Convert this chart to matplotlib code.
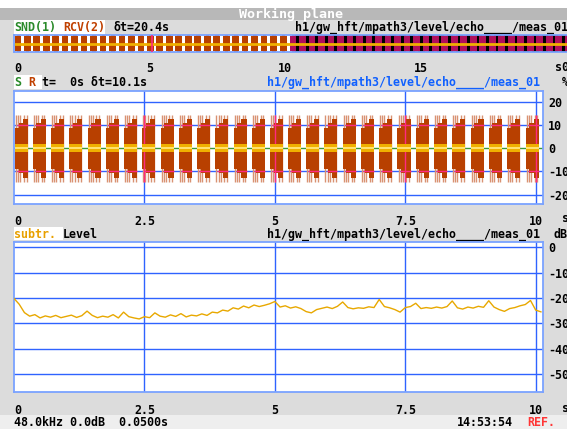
import numpy as np
import matplotlib
matplotlib.use("Agg")
import matplotlib.pyplot as plt
from matplotlib.patches import Rectangle

W, H, DPI = 567, 429, 100

# ------------------------------------------------------------------ data
overview_ticks = [0, 5, 10, 15]
overview_tick_labels = ["0", "5", "10", "15"]
overview_span = 20.4          # s, whole recording
window_span = 10.13           # s, shown window (dt=10.1s)
window_ticks = [0, 2.5, 5, 7.5, 10]
window_tick_labels = ["0", "2.5", "5", "7.5", "10"]

# burst start times (s)
burst_starts = [0.02, 0.36, 0.71, 1.06, 1.41, 1.76, 2.11, 2.46, 2.81, 3.16,
                3.51, 3.86, 4.21, 4.56, 4.91, 5.25, 5.60, 5.95, 6.30, 6.65,
                7.00, 7.35, 7.70, 8.05, 8.40, 8.75, 9.10, 9.45, 9.81]
# bursts in the rest of the recording (overview strip only)
tail_burst_starts = [10.17, 10.52, 10.87, 11.22, 11.57, 11.92, 12.27, 12.62,
                     12.97, 13.32, 13.67, 14.02, 14.37, 14.72, 15.07, 15.42,
                     15.77, 16.12, 16.47, 16.82, 17.17, 17.52, 17.87, 18.22,
                     18.57, 18.92, 19.27, 19.62, 19.97, 20.32]
burst_len = 0.25
burst_profile_amp = [8.8, 10.8, 12.8]   # % (rising burst envelope)
burst_spike_amp = 14.5                   # %
send_band_amp = 1.8                      # %

signal_ticks = [20, 10, 0, -10, -20]
level_ticks = [0, -10, -20, -30, -40, -50]

level_db = [-20.2, -22.5, -25.8, -27.2, -26.6, -27.9, -27.1, -27.6, -26.9, -27.8,
            -27.3, -26.8, -27.7, -27.0, -25.2, -26.9, -27.8, -27.2, -27.6, -26.6,
            -27.9, -25.6, -27.4, -27.9, -28.3, -27.4, -27.8, -25.9, -27.2, -27.6,
            -26.7, -27.3, -26.2, -27.5, -26.8, -27.1, -26.3, -26.9, -25.6, -25.9,
            -24.8, -25.2, -23.9, -24.4, -23.2, -23.9, -22.8, -23.4, -22.9, -22.3,
            -21.4, -23.6, -23.1, -24.0, -23.5, -24.2, -25.4, -25.9, -24.6, -24.1,
            -23.6, -24.2, -23.3, -21.6, -23.8, -24.3, -23.9, -24.1, -23.5, -23.8,
            -20.6, -23.4, -23.9, -24.6, -25.6, -23.8, -23.4, -22.1, -24.2, -23.8,
            -24.1, -23.6, -24.0, -23.4, -21.2, -23.9, -24.4, -23.6, -24.0, -23.3,
            -23.7, -21.1, -23.6, -24.6, -25.3, -24.2, -23.8, -23.1, -22.6, -21.0,
            -24.8, -25.5]
level_dt = 0.1

path_text = "h1/gw_hft/mpath3/level/echo____/meas_01"

# ------------------------------------------------------------------ style
MONO = "DejaVu Sans Mono"
FS = 8.4
GRAY = "#dcdcdc"
TITLE_GRAY = "#b8b8b8"
GRID = "#2f63ff"
SPINE = "#7aa2ff"
BROWN = "#b84000"
SALMON = "#d99272"
MAGENTA = "#b0105c"
PINK = "#ff2a80"
GOLD = "#f0b000"
plt.rcParams["font.family"] = [MONO]

fig = plt.figure(figsize=(W / DPI, H / DPI), dpi=DPI, facecolor=GRAY)

# background / text layer in pixel coordinates
bg = fig.add_axes([0, 0, 1, 1], zorder=0)
bg.set_xlim(0, W)
bg.set_ylim(H, 0)
bg.axis("off")


def rect(x0, y0, x1, y1, color):
    bg.add_patch(Rectangle((x0, y0), x1 - x0, y1 - y0, color=color, lw=0))


def txt(x, y, s, color="black", ha="left", **kw):
    bg.text(x, y, s, color=color, ha=ha, va="center", fontsize=FS,
            fontweight="bold", family=MONO, **kw)


rect(0, 0, W, 8, "white")
rect(0, 8, W, 20, TITLE_GRAY)
rect(0, 415, W, H, "#eeeeee")
rect(14, 20, 105, 35, "white")
rect(14, 75, 42, 89, "white")
rect(14, 227, 63, 240, "white")

bg.text(291, 14, "Working plane", color="white", ha="center", va="center",
        fontsize=9.6, fontweight="bold", family=MONO)
txt(14, 27.5, "SND(1)", color="#2a8a2a")
txt(63, 27.5, "RCV(2)", color="#c04000")
txt(113, 27.5, "δt=20.4s")
txt(295, 27.5, path_text)

txt(14, 82, "S", color="#2a8a2a")
txt(28, 82, "R", color="#c04000")
txt(42, 82, "t=  0s δt=10.1s")
txt(267, 82, path_text, color="#1060ff")
txt(562, 82, "%")

txt(14, 234, "subtr.", color="#e8a000")
txt(63, 234, "Level")
txt(267, 234, path_text)
txt(553, 234, "dB")

txt(555, 67.5, "s0")
txt(562, 219, "s")
txt(562, 408, "s")

txt(14, 423, "48.0kHz 0.0dB  0.0500s")
txt(457, 423, "14:53:54")
txt(527, 423, "REF.", color="#ff3535")


def px_axes(x0, y0, x1, y1):
    return fig.add_axes([x0 / W, 1 - y1 / H, (x1 - x0) / W, (y1 - y0) / H], zorder=2)


def style_axes(ax, spine_color=SPINE):
    for sp in ax.spines.values():
        sp.set_color(spine_color)
        sp.set_linewidth(1.3)
    ax.tick_params(length=0, labelsize=FS, labelcolor="black")
    for lab in ax.get_xticklabels() + ax.get_yticklabels():
        lab.set_fontweight("bold")
        lab.set_family(MONO)


# ------------------------------------------------------------------ overview strip
ov = px_axes(14, 35, 567, 52)
ov.set_facecolor("white")
ov.set_xlim(0, overview_span)
ov.set_ylim(-1, 1)
ov.axvspan(window_span + 0.15, overview_span, color="black", zorder=0)
all_ov = burst_starts + tail_burst_starts
ov_colors = [BROWN if s < window_span - 0.2 else MAGENTA for s in all_ov]
ov.bar(all_ov, 1.8, width=burst_len, bottom=-0.9, align="edge",
       color=ov_colors, lw=0, zorder=1)
ov.bar(np.array(all_ov) + 0.08, 2.0, width=0.12, bottom=-1.0, align="edge",
       color=ov_colors, lw=0, zorder=1)
ov.axhline(0, color=GOLD, lw=2.0, zorder=2)
ov.axvline(5.1, color=PINK, lw=1.2, zorder=3)
ov.set_xticks(overview_ticks)
ov.set_xticklabels(overview_tick_labels)
ov.set_yticks([])
style_axes(ov)
ov.spines["right"].set_visible(False)
ov.tick_params(axis="x", pad=7.5)
ov.get_xticklabels()[0].set_ha("left")

# ------------------------------------------------------------------ signal panel
sig = px_axes(14, 90.7, 542.5, 204)
sig.set_facecolor("white")
sig.set_xlim(0, window_span)
sig.set_ylim(-24.0, 24.8)
for v in signal_ticks:
    if v != 0:
        sig.axhline(v, color=GRID, lw=1.0, zorder=0)
for v in window_ticks[1:]:
    sig.axvline(v, color=GRID, lw=1.0, zorder=0)
sig.axhline(0, color="#3a9a3a", lw=1.0, zorder=1)

seg_off = [0.0, 0.07, 0.15]
seg_w = [0.07, 0.08, 0.10]
spike_off = [0.02, 0.06, 0.10, 0.17, 0.22]
starts = np.array(burst_starts)
for so in spike_off:
    sig.vlines(starts + so, -burst_spike_amp, burst_spike_amp,
               color=SALMON, lw=1.0, zorder=2)
for off, w, a in zip(seg_off, seg_w, burst_profile_amp):
    sig.bar(starts + off, 2 * a, width=w, bottom=-a, align="edge",
            color=BROWN, lw=0, zorder=3)
sig.hlines([10, -10] * len(starts), np.repeat(starts + 0.04, 2),
           np.repeat(starts + burst_len, 2), color=PINK, lw=1.0, zorder=4)
for g in window_ticks[1:]:
    for s in burst_starts:
        if s <= g <= s + burst_len:
            sig.vlines(g, -burst_spike_amp, burst_spike_amp, color=PINK, lw=1.0, zorder=4)
sig.bar(starts, 2 * send_band_amp, width=burst_len, bottom=-send_band_amp,
        align="edge", color=GOLD, lw=0, zorder=5)
sig.bar(starts, 0.9, width=burst_len, bottom=-0.45, align="edge",
        color="#ffe070", lw=0, zorder=6)
sig.set_xticks(window_ticks)
sig.set_xticklabels(window_tick_labels)
sig.yaxis.tick_right()
sig.set_yticks(signal_ticks)
sig.set_yticklabels([str(v) for v in signal_ticks])
style_axes(sig)
sig.tick_params(axis="x", pad=8.0)
sig.tick_params(axis="y", pad=4.0)
sig.get_xticklabels()[0].set_ha("left")

# ------------------------------------------------------------------ level panel
lev = px_axes(14, 242.3, 542.5, 392.3)
lev.set_facecolor("white")
lev.set_xlim(0, window_span)
lev.set_ylim(-57.3, 2.0)
for v in level_ticks:
    lev.axhline(v, color=GRID, lw=1.0, zorder=0)
for v in window_ticks[1:]:
    lev.axvline(v, color=GRID, lw=1.0, zorder=0)
level_t = np.arange(len(level_db)) * level_dt
lev.plot(level_t, level_db, color="#e8a800", lw=1.0, zorder=3)
lev.set_xticks(window_ticks)
lev.set_xticklabels(window_tick_labels)
lev.yaxis.tick_right()
lev.set_yticks(level_ticks)
lev.set_yticklabels([str(v) for v in level_ticks])
style_axes(lev)
lev.tick_params(axis="x", pad=8.5)
lev.tick_params(axis="y", pad=4.0)
lev.get_xticklabels()[0].set_ha("left")

fig.savefig("out.png", dpi=DPI, facecolor=GRAY)
